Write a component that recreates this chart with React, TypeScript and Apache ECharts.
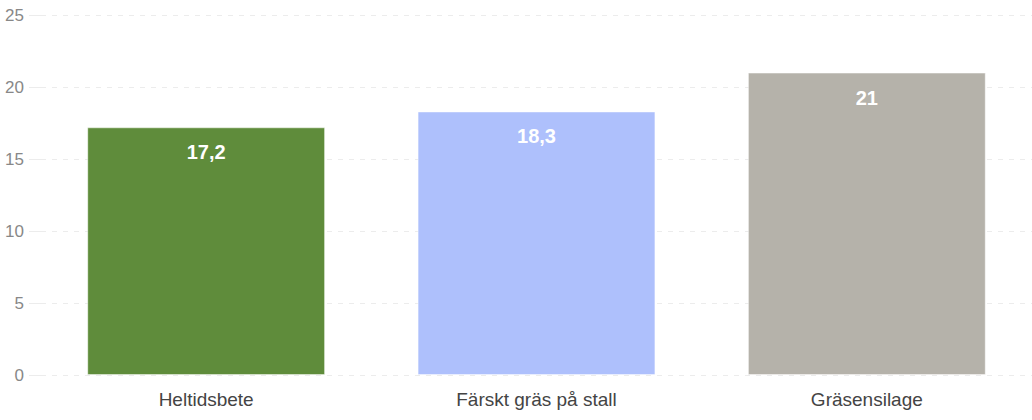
import React, { useEffect, useRef } from "react";
import * as echarts from "echarts";

const categories = ["Heltidsbete", "Färskt gräs på stall", "Gräsensilage"];
const values = [17.2, 18.3, 21];
const barColors = ["#5f8c3b", "#aec0fc", "#b5b2aa"];

const App: React.FC = () => {
  const chartRef = useRef<HTMLDivElement>(null);

  useEffect(() => {
    if (!chartRef.current) return;
    const chart = echarts.init(chartRef.current, null, { renderer: "svg" });

    const option = {
      animation: false,
      textStyle: { fontFamily: "Arial, 'Liberation Sans', sans-serif" },
      grid: { left: 41, right: 0, top: 15, bottom: 45, containLabel: false },
      xAxis: {
        type: "category",
        data: categories,
        axisLine: { show: false },
        axisTick: { show: false },
        axisLabel: { color: "#444", fontSize: 19, margin: 15 },
      },
      yAxis: {
        type: "value",
        min: 0,
        max: 25,
        interval: 5,
        axisLine: { show: false },
        axisTick: { show: true, length: 12, lineStyle: { color: "#ececec" } },
        axisLabel: { color: "#888", fontSize: 17, margin: 17 },
        splitLine: {
          lineStyle: { color: "#ececec", type: [5, 6], width: 1 },
        },
      },
      series: [
        {
          type: "bar",
          barWidth: "72%",
          data: values.map((v, i) => ({
            value: v,
            itemStyle: {
              color: barColors[i],
              borderColor: "rgba(255,255,255,0.45)",
              borderWidth: 1,
            },
          })),
          label: {
            show: true,
            position: "insideTop",
            distance: 15,
            color: "#fff",
            fontSize: 20,
            fontWeight: "bold",
            formatter: (p: any) => String(p.value).replace(".", ","),
          },
        },
      ],
    };

    chart.setOption(option);
    return () => chart.dispose();
  }, []);

  return (
    <div
      ref={chartRef}
      style={{ position: "absolute", left: 0, top: 0, width: 1032, height: 420 }}
    />
  );
};

export default App;
